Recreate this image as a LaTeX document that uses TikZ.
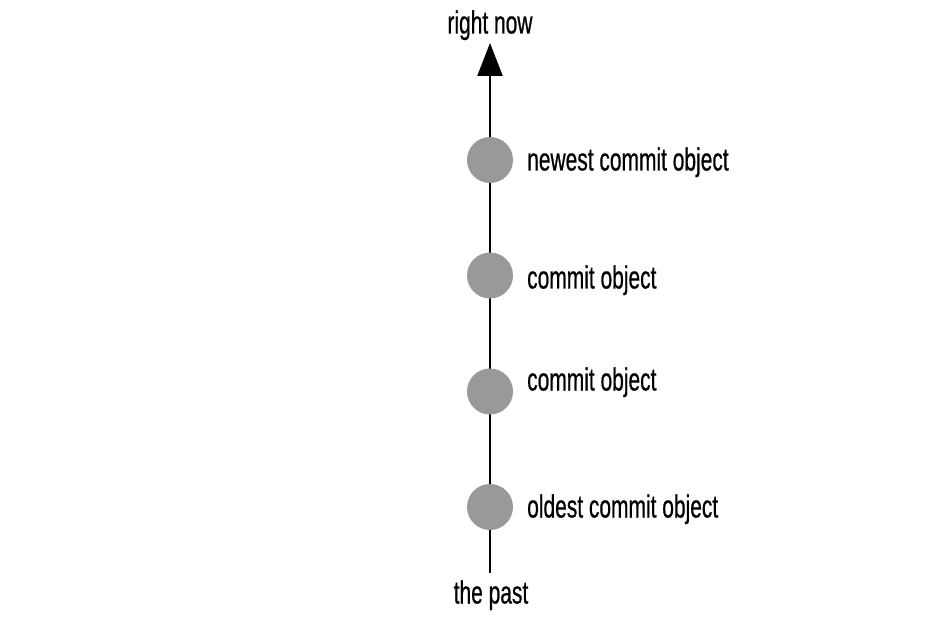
\documentclass[tikz,border=0pt]{standalone}
\usepackage{fontspec}
\setmainfont{Liberation Sans}[FakeStretch=0.655,FakeBold=0.6]
\usetikzlibrary{arrows.meta}
\begin{document}
\begin{tikzpicture}[x=1pt,y=-1pt,
  commit/.style={circle,fill=black!40,minimum size=46pt,inner sep=0pt},
  lbl/.style={inner sep=0pt,anchor=base west,font=\fontsize{32}{36}\selectfont},
  endlbl/.style={inner sep=0pt,anchor=base,font=\fontsize{32}{36}\selectfont},
  timeline/.style={line width=2.4pt,-{Triangle[length=33pt,width=25pt]}}]
\useasboundingbox (0,0) rectangle (940,628);
\coordinate (bottom) at (490,573);
\coordinate (top) at (490,43);
\draw[timeline] (bottom) -- (top);
\node[commit] (c1) at (490,160) {};
\node[commit] (c2) at (490,275.5) {};
\node[commit] (c3) at (490,391.5) {};
\node[commit] (c4) at (490,507) {};
\node[lbl] (l1) at (527,170.5) {newest commit object};
\node[lbl] (l2) at (527,288.5) {commit object};
\node[lbl] (l3) at (527,390.5) {commit object};
\node[lbl] (l4) at (527,517.5) {oldest commit object};
\node[endlbl] (now) at (490,33.5) {right now};
\node[endlbl] (past) at (491,603.5) {the past};
\end{tikzpicture}
\end{document}
